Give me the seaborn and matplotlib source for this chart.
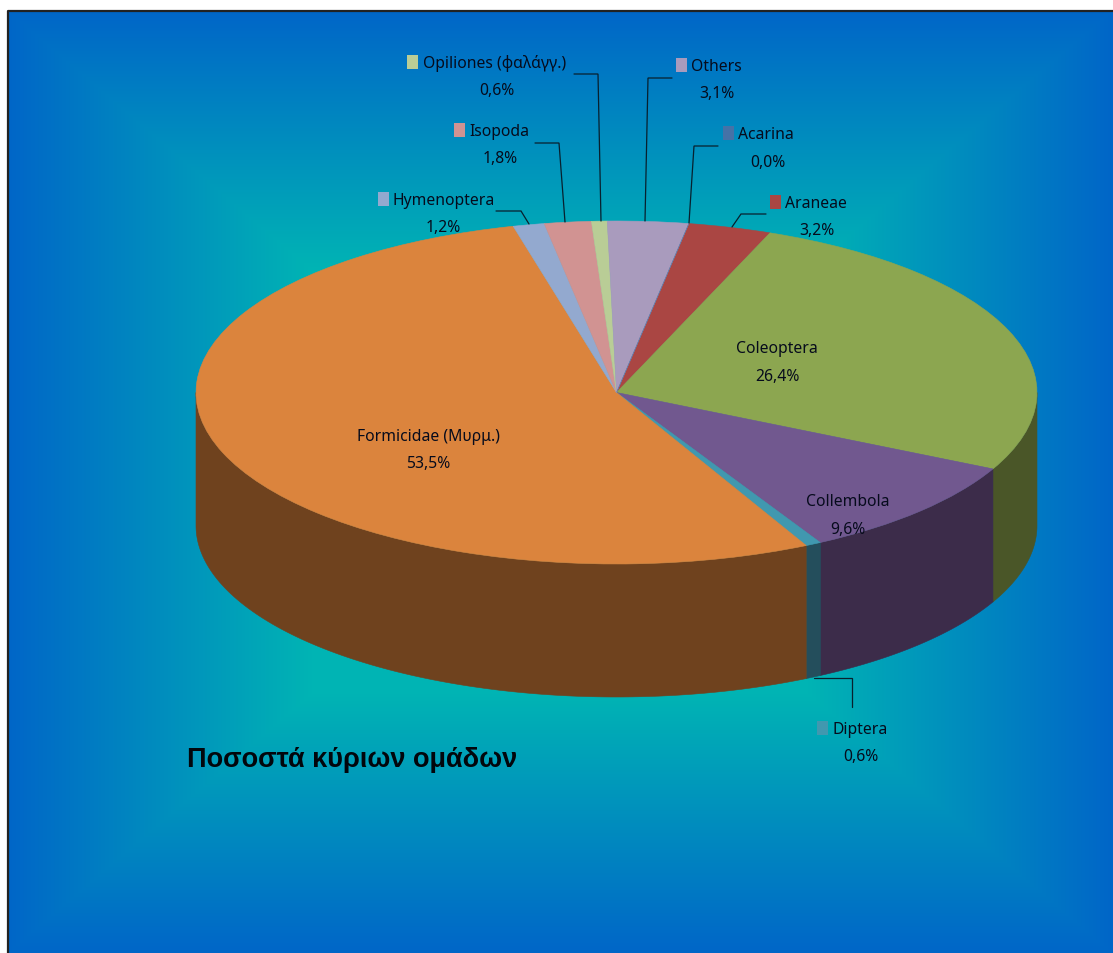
import numpy as np
import matplotlib
matplotlib.use("Agg")
import matplotlib.pyplot as plt
import seaborn as sns

# ---- data ----
categories = ["Araneae", "Coleoptera", "Collembola", "Diptera", "Formicidae (Μυρμ.)",
              "Hymenoptera", "Isopoda", "Opiliones (φαλάγγ.)", "Others", "Acarina"]
values = [3.2, 26.4, 9.6, 0.6, 53.5, 1.2, 1.8, 0.6, 3.1, 0.0]
top_colors = ["#AA4643", "#8CA650", "#71588F", "#4198AF", "#DB843D",
              "#93A9CF", "#D19392", "#B9CD96", "#A99BBD", "#4572A7"]
wall_colors = ["#5A2523", "#4A5628", "#3C2C4A", "#244E5C", "#6F421E",
               "#4E5A6E", "#6F4E4E", "#626D50", "#5A5264", "#253D59"]
title = "Ποσοστά κύριων ομάδων"

sns.set_theme(style="white")
plt.rcParams["font.family"] = ["Noto Sans", "DejaVu Sans"]
palette = sns.color_palette(top_colors)

W, H = 1113, 954
fig = plt.figure(figsize=(W / 100, H / 100), dpi=100, facecolor="white")

# ---- pixel-space background ----
bg = fig.add_axes([0, 0, 1, 1], zorder=0)
x0, y0 = 8, 12
gx, gy = np.meshgrid(np.arange(x0, W) + .5, np.arange(y0, H) + .5)
cx, cy = 560, 483
t = np.maximum(np.abs(gx - cx) / (cx - x0), np.abs(gy - cy) / (cy - y0))
t = np.clip((t - 0.45) / 0.55, 0, 1)[..., None]
inner, outer = np.array([0, 180, 180]) / 255, np.array([0, 102, 200]) / 255
bg.imshow(inner * (1 - t) + outer * t, extent=[x0, W, H, y0], aspect="auto", interpolation="bilinear")
bg.set_xlim(0, W)
bg.set_ylim(H, 0)
bg.axis("off")
bg.plot([x0 - .5, x0 - .5, W], [H, y0 - .5, y0 - .5], color="#222222", lw=1.6, solid_capstyle="butt")

# ---- squashed pie ----
PCX, PCY, RX, RY, DEPTH = 616.5, 393.5, 420.5, 171.5, 133
ax = fig.add_axes([0, 0, 1, 1], zorder=1)
ax.patch.set_alpha(0)
start = 80.1  # degrees, anticlockwise from +x; slices proceed clockwise
wedges, _ = ax.pie(values, colors=palette, startangle=start, counterclock=False, radius=1,
                   wedgeprops=dict(linewidth=0.4), normalize=True)
for w in wedges:
    w.set_edgecolor(w.get_facecolor())
ax.set_aspect("auto")
ax.set_xlim(-PCX / RX, (W - PCX) / RX)
ax.set_ylim((PCY - H) / RY, PCY / RY)
d = DEPTH / RY

edges = start - np.concatenate([[0], np.cumsum(values)]) * 360 / np.sum(values)
for a0, a1, c in zip(edges[:-1], edges[1:], wall_colors):
    for shift in (0, -360):
        lo, hi = max(a1 + shift, -180), min(a0 + shift, 0)
        if hi > lo:
            phi = np.radians(np.linspace(lo, hi, 200))
            xs, ys = np.cos(phi), np.sin(phi)
            ax.fill(np.r_[xs, xs[::-1]], np.r_[ys, ys[::-1] - d], color=c, lw=0.4, zorder=0.5)

# ---- overlay: labels, keys, leaders ----
ov = fig.add_axes([0, 0, 1, 1], zorder=2)
ov.patch.set_alpha(0)
ov.set_xlim(0, W)
ov.set_ylim(H, 0)
ov.axis("off")
INK = "#060b1c"
FS = 11.3


def pct(name):
    return f"{values[categories.index(name)]:.1f}%".replace(".", ",")


# name: key left, key top, text-left, text-y, pct-center-x, pct-y
keyed = {
    "Opiliones (φαλάγγ.)": (407, 56, 423, 64, 497, 91),
    "Isopoda": (454, 124, 469, 132, 500, 159),
    "Hymenoptera": (378, 193, 393, 201, 443, 228),
    "Others": (676, 59, 691, 67, 717, 94),
    "Acarina": (723, 127, 738, 135, 768, 163),
    "Araneae": (770, 196, 785, 204, 817, 231),
    "Diptera": (817, 722, 832, 730, 861, 757),
}
for name, (kx, ky, tx, ty, px, py) in keyed.items():
    col = top_colors[categories.index(name)]
    ov.add_patch(plt.Rectangle((kx, ky), 11, 13.5, color=col, lw=0))
    ov.text(tx, ty, name, ha="left", va="center", fontsize=FS, color=INK)
    ov.text(px, py, pct(name), ha="center", va="center", fontsize=FS, color=INK)

inside = {
    "Coleoptera": (777, 349, 377),
    "Collembola": (848, 502, 530),
    "Formicidae (Μυρμ.)": (428, 437, 464),
}
for name, (tx, y1, y2) in inside.items():
    ov.text(tx, y1, name, ha="center", va="center", fontsize=FS, color=INK)
    ov.text(tx, y2, pct(name), ha="center", va="center", fontsize=FS, color=INK)

leaders = [
    [(574, 75), (598, 75), (601, 222)],
    [(535, 144), (559, 144), (565, 223)],
    [(496, 212), (521, 212), (529, 225)],
    [(672, 79), (648, 79), (645, 222)],
    [(718, 147), (694, 147), (689, 224)],
    [(766, 215), (741, 215), (732, 228)],
    [(814, 679), (852, 679), (852, 708)],
]
for seg in leaders:
    xs, ys = zip(*seg)
    ov.plot(xs, ys, color="#08202e", lw=0.9, solid_joinstyle="miter")

ov.text(187, 760, title, ha="left", va="center", fontsize=19.5, fontweight="bold",
        family="Liberation Sans", color="#02060c")

fig.savefig("out.png", dpi=100, facecolor="white")
